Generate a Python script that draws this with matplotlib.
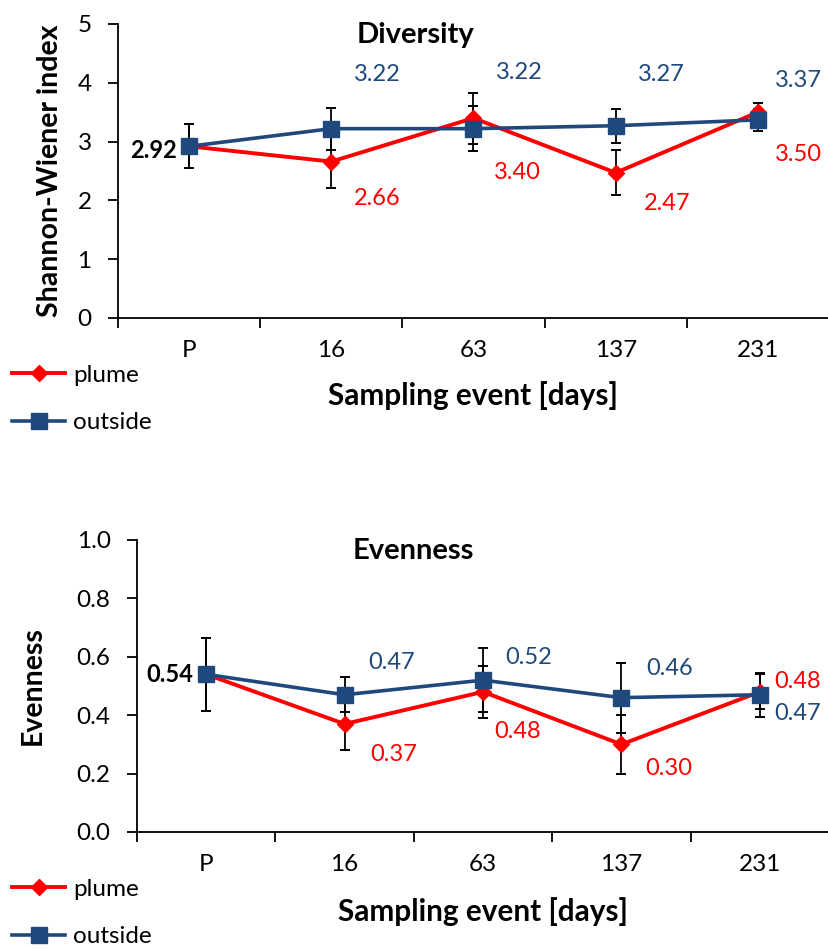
import matplotlib
matplotlib.use('Agg')
import matplotlib.pyplot as plt
from matplotlib.lines import Line2D
import numpy as np

# ---------------- data ----------------
categories = ['P', '16', '63', '137', '231']

div_plume = [2.92, 2.66, 3.40, 2.47, 3.50]
div_outside = [2.92, 3.22, 3.22, 3.27, 3.37]
div_plume_err = [0.375, 0.45, 0.435, 0.385, 0.16]
div_outside_err = [0.375, 0.355, 0.385, 0.29, 0.19]

even_plume = [0.54, 0.37, 0.48, 0.30, 0.48]
even_outside = [0.54, 0.47, 0.52, 0.46, 0.47]
even_plume_err = [0.124, 0.09, 0.09, 0.10, 0.06]
even_outside_err = [0.124, 0.06, 0.11, 0.12, 0.075]

# ---------------- label offsets (pixels) ----------------
div_out_off = [None, (46, 54), (46, 56), (46, 51), (41, 39)]
div_plu_off = [None, (46, -37), (44, -54), (51, -31), (41, -42)]
even_out_off = [None, (47, 32), (46, 23), (48, 29), (38, -19)]
even_plu_off = [None, (49, -31), (35, -40), (47, -24), (38, 10)]

RED = '#FF0000'
BLUE = '#1F497D'
FONT = 'Lato'
plt.rcParams['font.family'] = [FONT, 'DejaVu Sans']

TICK_FS = 17.5
LABEL_FS = 17
TITLE_FS = 21
AXTITLE_FS = 21.4
YLAB_FS = 20.5
LEG_FS = 17.5

W, H = 829, 949
fig = plt.figure(figsize=(W / 100, H / 100), dpi=100)


def make_axes(rect, plume, outside, perr, oerr, ylim, yticks, ytfmt,
              title, title_xy, ylabel, ylabel_x, xlabel_y,
              out_off, plu_off, p_off, legend_y):
    ax = fig.add_axes(rect)
    x = np.arange(len(categories))
    ax.set_xlim(-0.5, len(categories) - 0.5)
    ax.set_ylim(*ylim)
    for s in ['top', 'right']:
        ax.spines[s].set_visible(False)
    for s in ['left', 'bottom']:
        ax.spines[s].set_linewidth(1.3)
    ax.set_yticks(yticks)
    ax.set_yticklabels([ytfmt.format(t) for t in yticks], fontsize=TICK_FS)
    ax.tick_params(axis='y', direction='out', length=7, width=1.3, pad=12)
    ax.set_xticks(np.arange(-0.5, len(categories), 1.0))
    ax.set_xticklabels([])
    ax.tick_params(axis='x', which='major', direction='out', length=7, width=1.3)
    ax.set_xticks(x, minor=True)
    ax.set_xticklabels(categories, minor=True, fontsize=TICK_FS)
    ax.tick_params(axis='x', which='minor', length=0, pad=16)

    # lines
    ax.plot(x, plume, color=RED, lw=2.8, zorder=2, solid_capstyle='round')
    ax.plot(x, outside, color=BLUE, lw=2.6, zorder=2.1, solid_capstyle='round')
    # error bars
    ax.errorbar(x, plume, yerr=perr, fmt='none', ecolor='black', elinewidth=1.3,
                capsize=3.8, capthick=1.4, zorder=3)
    ax.errorbar(x, outside, yerr=oerr, fmt='none', ecolor='black', elinewidth=1.3,
                capsize=3.8, capthick=1.4, zorder=3)
    # markers
    ax.plot(x, plume, linestyle='none', marker='D', ms=8, color=RED, zorder=4)
    ax.plot(x, outside, linestyle='none', marker='s', ms=11.5, color=BLUE, zorder=5)

    # data labels
    for i in range(1, len(categories)):
        dx, dy = out_off[i]
        ax.annotate(f'{outside[i]:.2f}', xy=(x[i], outside[i]), xytext=(dx, dy),
                    textcoords='offset pixels', ha='center', va='center',
                    fontsize=LABEL_FS, color=BLUE, zorder=6)
        dx, dy = plu_off[i]
        ax.annotate(f'{plume[i]:.2f}', xy=(x[i], plume[i]), xytext=(dx, dy),
                    textcoords='offset pixels', ha='center', va='center',
                    fontsize=LABEL_FS, color=RED, zorder=6)
    ax.annotate(f'{outside[0]:.2f}', xy=(x[0], outside[0]), xytext=p_off,
                textcoords='offset pixels', ha='right', va='center',
                fontsize=LABEL_FS, fontweight='bold', color='black', zorder=6)

    ax.text(title_xy[0], title_xy[1], title, transform=ax.transAxes, ha='center',
            va='center', fontsize=TITLE_FS, fontweight='bold')
    ax.text(ylabel_x, 0.5, ylabel, transform=ax.transAxes, ha='center', va='center',
            rotation=90, fontsize=YLAB_FS, fontweight='bold')
    ax.text(0.5, xlabel_y, 'Sampling event [days]', transform=ax.transAxes,
            ha='center', va='center', fontsize=AXTITLE_FS, fontweight='bold')

    handles = [Line2D([], [], color=RED, lw=2.8, marker='D', ms=8),
               Line2D([], [], color=BLUE, lw=2.6, marker='s', ms=11.5)]
    fig.legend(handles, ['plume', 'outside'], loc='center left',
               bbox_to_anchor=(12 / W, legend_y), frameon=False, fontsize=LEG_FS,
               handlelength=2.2, handletextpad=0.3, labelspacing=1.1,
               borderpad=0, borderaxespad=0)
    return ax


make_axes([118 / W, 1 - 318 / H, 711 / W, 294 / H],
          div_plume, div_outside, div_plume_err, div_outside_err,
          (0, 5), [0, 1, 2, 3, 4, 5], '{:.0f}',
          'Diversity', (0.418, 0.963), 'Shannon-Wiener index', -0.0956, -0.265,
          div_out_off, div_plu_off, (-12, -4), 1 - 399 / H)

make_axes([137 / W, 1 - 832 / H, 692 / W, 292 / H],
          even_plume, even_outside, even_plume_err, even_outside_err,
          (0, 1), [0.0, 0.2, 0.4, 0.6, 0.8, 1.0], '{:.1f}',
          'Evenness', (0.400, 0.962), 'Evenness', -0.150, -0.274,
          even_out_off, even_plu_off, (-13, 0), 1 - 913 / H)

fig.savefig('out.png', dpi=100)
